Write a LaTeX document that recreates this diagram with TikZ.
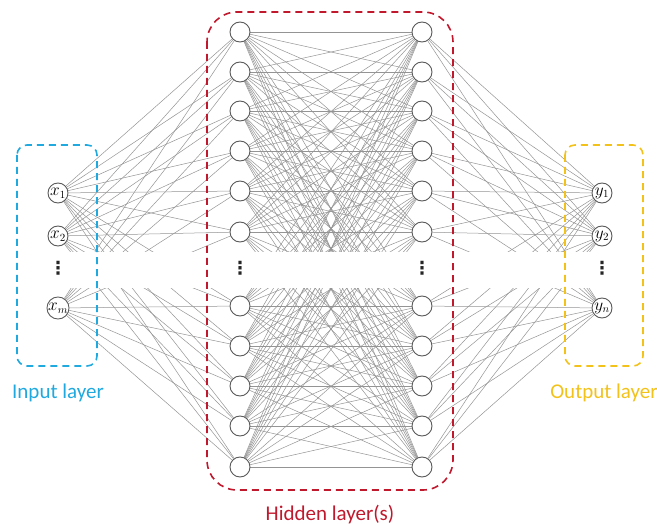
\documentclass[tikz,border=0pt]{standalone}
\usepackage{fontspec}
\setmainfont{Carlito}
\newfontfamily\dotsfont{DejaVu Sans}
\pgfdeclarelayer{wires}
\pgfdeclarelayer{mask}
\pgfsetlayers{wires,mask,main}
\definecolor{inblue}{HTML}{1FA9DE}
\definecolor{hidred}{HTML}{C0182C}
\definecolor{outgold}{HTML}{F2C21B}
\begin{document}
\begin{tikzpicture}[x=1pt,y=-1pt,
  neuron/.style={circle,draw=black!65,line width=0.9pt,fill=white,minimum size=20pt,inner sep=0pt,font=\fontsize{16}{16}\selectfont},
  link/.style={draw=black!42,line width=0.5pt},
  dotsnode/.style={inner sep=0pt,font=\dotsfont\bfseries\fontsize{18}{18}\selectfont,text=black!85},
  layerbox/.style={line width=1.6pt,dash pattern=on 7pt off 5pt},
  caption/.style={font=\fontsize{21}{24}\selectfont,anchor=base}]
\useasboundingbox (0,0) rectangle (657,524);

% input layer
\node[neuron] (i1) at (58,193) {$x_1$};
\node[neuron] (i2) at (58,236) {$x_2$};
\node[dotsnode] (idots) at (58,268) {⋮};
\node[neuron] (i3) at (58,308) {$x_m$};

% two hidden layers
\foreach \y [count=\k] in {32,72,111,151,191,232,306,346,386,426,467}{
  \node[neuron] (h\k) at (240,\y) {};
  \node[neuron] (g\k) at (422,\y) {};
}
\node[dotsnode] (hdots) at (240,268) {⋮};
\node[dotsnode] (gdots) at (422,268) {⋮};

% output layer
\node[neuron] (o1) at (602,193) {$y_1$};
\node[neuron] (o2) at (602,236) {$y_2$};
\node[dotsnode] (odots) at (602,268) {⋮};
\node[neuron] (o3) at (602,308) {$y_n$};

% fully connected weights
\begin{pgfonlayer}{wires}
\foreach \a in {1,2,3}{
  \foreach \b in {1,...,11}{
    \draw[link] (i\a) -- (h\b);
    \draw[link] (g\b) -- (o\a);
  }
}
\foreach \a in {1,...,11}{
  \foreach \b in {1,...,11}{
    \draw[link] (h\a) -- (g\b);
  }
}
\end{pgfonlayer}

% blank band behind the ellipsis row
\begin{pgfonlayer}{mask}
\fill[white] (68,252) rectangle (592,288);
\end{pgfonlayer}

% layer frames
\draw[layerbox,draw=inblue,rounded corners=10pt] (17,145) rectangle (97,366);
\draw[layerbox,draw=hidred,rounded corners=30pt] (207,12) rectangle (453,490);
\draw[layerbox,draw=outgold,rounded corners=10pt] (565,145) rectangle (643,366);

% captions
\node[caption,text=inblue] (tin) at (58,399) {Input layer};
\node[caption,text=hidred] (thid) at (330,520) {Hidden layer(s)};
\node[caption,text=outgold] (tout) at (604,399) {Output layer};
\end{tikzpicture}
\end{document}
